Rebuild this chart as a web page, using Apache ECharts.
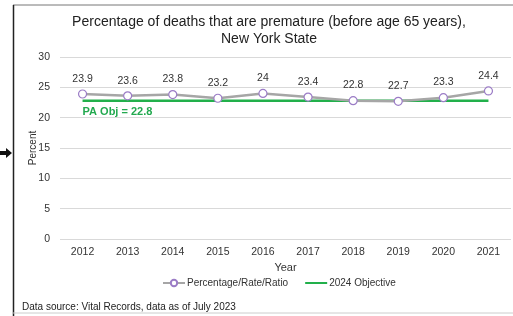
<!DOCTYPE html>
<html>
<head>
<meta charset="utf-8">
<script src="https://cdn.jsdelivr.net/npm/echarts@6/dist/echarts.min.js"></script>
<style>
  html, body { margin: 0; padding: 0; background: #fff; }
  #chart { width: 513px; height: 316px; }
</style>
</head>
<body>
<div id="chart"></div>
<script>
const years = ['2012', '2013', '2014', '2015', '2016', '2017', '2018', '2019', '2020', '2021']
const percentValues = [23.9, 23.6, 23.8, 23.2, 24, 23.4, 22.8, 22.7, 23.3, 24.4]
const objectiveValue = 22.8
const objectiveValues = years.map(() => objectiveValue)
const yTicks = [0, 5, 10, 15, 20, 25, 30]

const chart = echarts.init(document.getElementById('chart'))
const font = 'Liberation Sans, Arial, sans-serif'

chart.setOption({
  backgroundColor: '#fff',
  animation: false,
  textStyle: { fontFamily: font },
  title: {
    text: 'Percentage of deaths that are premature (before age 65 years),\nNew York State',
    left: 264,
    top: 9,
    textAlign: 'center',
    textStyle: { color: '#222', fontSize: 14, fontWeight: 'normal', lineHeight: 17 }
  },
  grid: { left: 60, right: 2, top: 57, bottom: 77 },
  legend: {
    top: 273,
    left: 157,
    itemWidth: 22,
    itemHeight: 8,
    itemGap: 16,
    textStyle: { color: '#333', fontSize: 10, padding: [0, 0, 0, -3] },
    data: [
      { name: 'Percentage/Rate/Ratio' },
      { name: '2024 Objective', itemStyle: { color: 'rgba(0,0,0,0)', borderWidth: 0 } }
    ]
  },
  xAxis: {
    type: 'category',
    data: years,
    name: 'Year',
    nameLocation: 'middle',
    nameGap: 22,
    nameTextStyle: { color: '#333', fontSize: 11 },
    axisTick: { show: false },
    axisLine: { show: false },
    axisLabel: { color: '#333', fontSize: 10.5, margin: 8 }
  },
  yAxis: {
    type: 'value',
    min: yTicks[0],
    max: yTicks[yTicks.length - 1],
    interval: 5,
    name: 'Percent',
    nameLocation: 'middle',
    nameGap: 22,
    nameMoveOverlap: false,
    nameTextStyle: { color: '#333', fontSize: 10 },
    axisLine: { show: false },
    axisTick: { show: false },
    axisLabel: { color: '#333', fontSize: 10.5, margin: 10 },
    splitLine: { lineStyle: { color: '#d9d9d9', width: 1 } }
  },
  series: [
    {
      name: '2024 Objective',
      type: 'line',
      data: objectiveValues.map((v, i) => i === 0 ? {
        value: v,
        label: {
          show: true,
          formatter: 'PA Obj = ' + objectiveValue,
          position: [0, 6],
          align: 'left',
          color: '#22a94f',
          fontWeight: 'bold',
          fontSize: 11
        }
      } : v),
      symbol: 'circle',
      symbolSize: 0,
      showSymbol: true,
      lineStyle: { color: '#22b04b', width: 2.5 },
      itemStyle: { color: '#22b04b' },
      z: 2
    },
    {
      name: 'Percentage/Rate/Ratio',
      type: 'line',
      data: percentValues,
      symbol: 'circle',
      symbolSize: 8,
      lineStyle: { color: '#a6a6a6', width: 2.5 },
      itemStyle: { color: '#fff', borderColor: '#9b7cc6', borderWidth: 1.2 },
      label: {
        show: true,
        position: 'top',
        distance: 5,
        color: '#333',
        fontSize: 10.5
      },
      z: 3
    }
  ],
  graphic: [
    { type: 'line', shape: { x1: 13, y1: 5, x2: 513, y2: 5 }, style: { stroke: '#777', lineWidth: 1 } },
    { type: 'line', shape: { x1: 13.5, y1: 5, x2: 13.5, y2: 316 }, style: { stroke: '#222', lineWidth: 1.5 } },
    { type: 'line', shape: { x1: 13, y1: 313, x2: 513, y2: 313 }, style: { stroke: '#ccc', lineWidth: 1 } },
    {
      type: 'polygon',
      shape: { points: [[0, 151], [6, 151], [6, 148], [12, 153], [6, 158], [6, 155], [0, 155]] },
      style: { fill: '#111' }
    },
    {
      type: 'text',
      left: 22,
      top: 302,
      style: { text: 'Data source: Vital Records, data as of July 2023', fill: '#222', fontSize: 10, fontFamily: font }
    }
  ]
})
</script>
</body>
</html>
